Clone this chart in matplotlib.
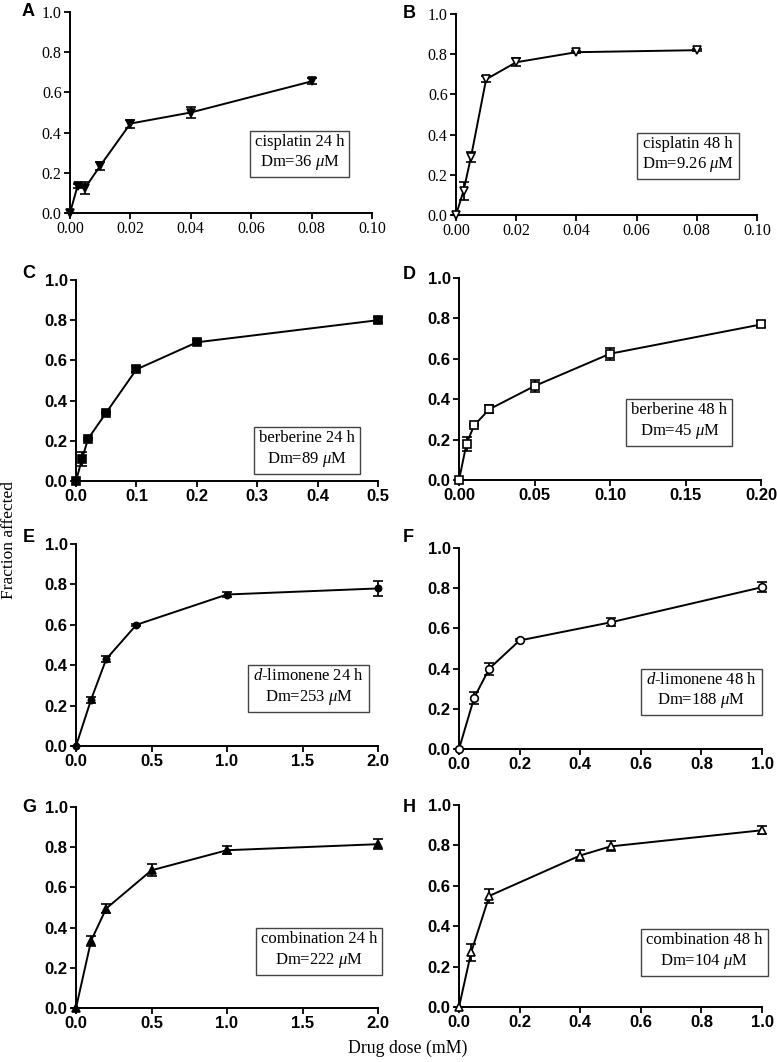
import matplotlib
matplotlib.use("Agg")
import matplotlib.pyplot as plt

# ---- data ----
xA = [0, 0.0025, 0.005, 0.01, 0.02, 0.04, 0.08]
yA = [0, 0.135, 0.125, 0.235, 0.445, 0.50, 0.655]
eA = [0, 0.01, 0.03, 0.02, 0.02, 0.025, 0.015]

xB = [0, 0.0025, 0.005, 0.01, 0.02, 0.04, 0.08]
yB = [0, 0.12, 0.29, 0.675, 0.76, 0.81, 0.82]
eB = [0, 0.045, 0.025, 0.015, 0.02, 0.005, 0.005]

xC = [0, 0.01, 0.02, 0.05, 0.1, 0.2, 0.5]
yC = [0, 0.11, 0.21, 0.34, 0.555, 0.69, 0.80]
eC = [0, 0.035, 0.005, 0.005, 0.015, 0.01, 0.015]

xD = [0, 0.005, 0.01, 0.02, 0.05, 0.1, 0.2]
yD = [0, 0.18, 0.27, 0.35, 0.465, 0.625, 0.77]
eD = [0, 0.035, 0.005, 0.02, 0.03, 0.03, 0.015]

xE = [0, 0.1, 0.2, 0.4, 1.0, 2.0]
yE = [0, 0.23, 0.43, 0.60, 0.75, 0.78]
eE = [0, 0.015, 0.015, 0.005, 0.01, 0.035]

xF = [0, 0.05, 0.1, 0.2, 0.5, 1.0]
yF = [0, 0.255, 0.40, 0.54, 0.63, 0.805]
eF = [0, 0.03, 0.03, 0.005, 0.02, 0.025]

xG = [0, 0.1, 0.2, 0.5, 1.0, 2.0]
yG = [0, 0.335, 0.495, 0.685, 0.785, 0.815]
eG = [0, 0.025, 0.02, 0.03, 0.02, 0.025]

xH = [0, 0.04, 0.1, 0.4, 0.5, 1.0]
yH = [0, 0.27, 0.55, 0.75, 0.795, 0.875]
eH = [0, 0.04, 0.035, 0.025, 0.025, 0.02]

letters = ["A", "B", "C", "D", "E", "F", "G", "H"]
labels_top = ["cisplatin 24 h", "cisplatin 48 h", "berberine 24 h", "berberine 48 h",
              r"$\it{d}$-limonene 24 h", r"$\it{d}$-limonene 48 h",
              "combination 24 h", "combination 48 h"]
dm_vals = ["36", "9.26", "89", "45", "253", "188", "222", "104"]
xmaxes = [0.10, 0.10, 0.5, 0.20, 2.0, 1.0, 2.0, 1.0]
xticks = [
    [0.00, 0.02, 0.04, 0.06, 0.08, 0.10],
    [0.00, 0.02, 0.04, 0.06, 0.08, 0.10],
    [0.0, 0.1, 0.2, 0.3, 0.4, 0.5],
    [0.00, 0.05, 0.10, 0.15, 0.20],
    [0.0, 0.5, 1.0, 1.5, 2.0],
    [0.0, 0.2, 0.4, 0.6, 0.8, 1.0],
    [0.0, 0.5, 1.0, 1.5, 2.0],
    [0.0, 0.2, 0.4, 0.6, 0.8, 1.0],
]
xfmt = ["%.2f", "%.2f", "%.1f", "%.2f", "%.1f", "%.1f", "%.1f", "%.1f"]
yticks = [0.0, 0.2, 0.4, 0.6, 0.8, 1.0]
series = [(xA, yA, eA), (xB, yB, eB), (xC, yC, eC), (xD, yD, eD),
          (xE, yE, eE), (xF, yF, eF), (xG, yG, eG), (xH, yH, eH)]

# ---- styles ----
markers = ["v", "v", "s", "s", "o", "o", "^", "^"]
filled = [True, False, True, False, True, False, True, False]
msizes = [6, 6, 5.5, 6, 4.5, 5.5, 5.5, 6]
W, H = 777, 1062
# axes rectangles in pixels: (x0, xend, ytop, ybottom)
rects = [(70, 372, 12, 213), (456, 757, 14, 215),
         (76, 378, 280, 481), (459, 761, 278, 480),
         (76, 378, 544, 746), (459, 762, 548, 749),
         (76, 378, 807, 1008), (459, 762, 805, 1007)]
boxpos = [(0.76, 0.30), (0.77, 0.30), (0.765, 0.157), (0.73, 0.29),
          (0.77, 0.29), (0.80, 0.29), (0.805, 0.286), (0.81, 0.275)]
letterpos = [(22, 11), (403, 13), (22, 273), (403, 275),
             (23, 537), (403, 538), (22, 807), (403, 807)]

serif = ["Liberation Serif", "DejaVu Serif"]
sans = ["Liberation Sans", "DejaVu Sans"]
plt.rcParams["mathtext.fontset"] = "custom"
plt.rcParams["mathtext.rm"] = "Liberation Serif"
plt.rcParams["mathtext.it"] = "Liberation Serif:italic"

fig = plt.figure(figsize=(W / 100, H / 100), dpi=100)

for i in range(8):
    x0, x1, yt, yb = rects[i]
    ax = fig.add_axes([x0 / W, 1 - yb / H, (x1 - x0) / W, (yb - yt) / H])
    xs, ys, es = series[i]
    ax.errorbar(xs, ys, yerr=es, color="black", lw=1.4, capsize=3.5, capthick=1.3,
                elinewidth=1.3, marker=markers[i], ms=msizes[i],
                mfc="black" if filled[i] else "white", mec="black", mew=1.2,
                clip_on=False, zorder=3)
    ax.set_xlim(0, xmaxes[i])
    ax.set_ylim(0, 1.0)
    ax.spines["top"].set_visible(False)
    ax.spines["right"].set_visible(False)
    for s in ("left", "bottom"):
        ax.spines[s].set_linewidth(1.4)
    ax.tick_params(direction="out", length=4, width=1.3, pad=2)
    ax.set_xticks(xticks[i])
    ax.set_yticks(yticks)
    ax.set_xticklabels([xfmt[i] % v for v in xticks[i]])
    ax.set_yticklabels(["%.1f" % v for v in yticks])
    if i < 2:
        for lab in ax.get_xticklabels() + ax.get_yticklabels():
            lab.set_fontfamily(serif)
            lab.set_fontsize(11.5)
    else:
        for lab in ax.get_xticklabels() + ax.get_yticklabels():
            lab.set_fontfamily(sans)
            lab.set_fontweight("bold")
            lab.set_fontsize(12)
    bx, by = boxpos[i]
    ax.text(bx, by, labels_top[i] + "\n" + "Dm=" + dm_vals[i] + r" $\it{\mu}$M",
            transform=ax.transAxes, ha="center", va="center", fontsize=12,
            family=serif, linespacing=1.25,
            bbox=dict(boxstyle="square,pad=0.3", fc="white", ec="#444444", lw=1.0))
    lx, ly = letterpos[i]
    fig.text(lx / W, 1 - ly / H, letters[i], fontsize=13,
             fontweight="bold", family=sans, ha="left", va="center")

fig.text(9 / W, 1 - 540 / H, "Fraction affected", rotation=90, family=serif,
         fontsize=12.5, ha="center", va="center")
fig.text(408 / W, 1 - 1048 / H, "Drug dose (mM)", family=serif, fontsize=12.8,
         ha="center", va="center")

fig.savefig("out.png", dpi=100)
